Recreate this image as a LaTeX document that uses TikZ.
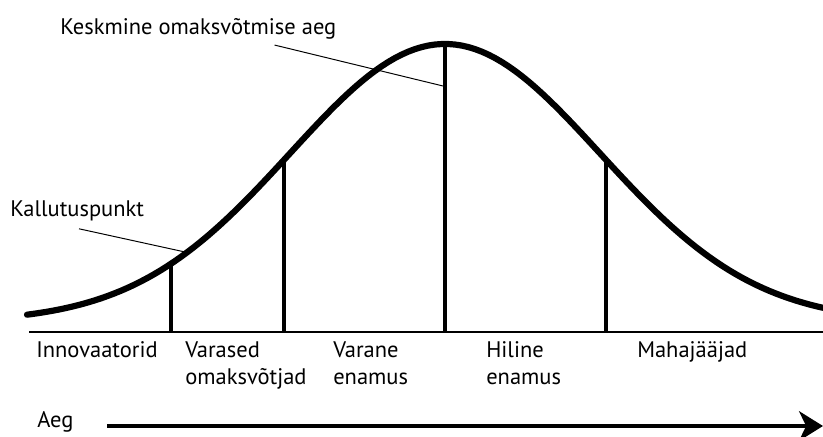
\documentclass[tikz,border=0pt]{standalone}
\usepackage{fontspec}
\setmainfont{PT Sans}
\usetikzlibrary{arrows.meta}
\begin{document}
\begin{tikzpicture}[x=0.025cm,y=-0.025cm,
  declare function={bell(\t)=322-278*exp(-((\t-445)/155)^2/2);},
  lbl/.style={anchor=base west,inner sep=0pt,align=left,font=\fontsize{16}{19.2}\selectfont},
  bar/.style={line width=2.4pt}]
\useasboundingbox (0,0) rectangle (823,436);
% curve and axis
\draw[line width=4.4pt,line cap=round] plot[domain=27:823,samples=120] (\x,{bell(\x)});
\draw[line width=1.6pt] (29,332) -- (823,332);
\draw[bar] (171,332) -- (171,{bell(171)});
\draw[bar] (284,332) -- (284,{bell(284)});
\draw[bar] (445,332) -- (445,{bell(445)});
\draw[bar] (606,332) -- (606,{bell(606)});
% labels
\node[lbl] (mean) at (60,34) {Keskmine omaksvõtmise aeg};
\node[lbl] (tip) at (10,216) {Kallutuspunkt};
\coordinate (meanend) at (443,86);
\coordinate (tipend) at (187,{bell(187)});
\draw[line width=0.7pt] ([shift={(-62,6)}]mean.south east) -- (meanend);
\draw[line width=0.7pt] ([shift={(69,8)}]tip.south west) -- (tipend);
\node[lbl] (inno) at (36,357) {Innovaatorid};
\node[lbl] (early) at (185,384) {Varased\\omaksvõtjad};
\node[lbl] (emaj) at (333,384) {Varane\\enamus};
\node[lbl] (lmaj) at (486,384) {Hiline\\enamus};
\node[lbl] (lag) at (637,357) {Mahajääjad};
% time axis
\node[lbl] (time) at (37,427) {Aeg};
\coordinate (timeend) at (823,426);
\draw[line width=2.8pt,-{Stealth[length=17pt,width=21pt,inset=5pt]}] (107,426) -- (timeend);
\end{tikzpicture}
\end{document}
